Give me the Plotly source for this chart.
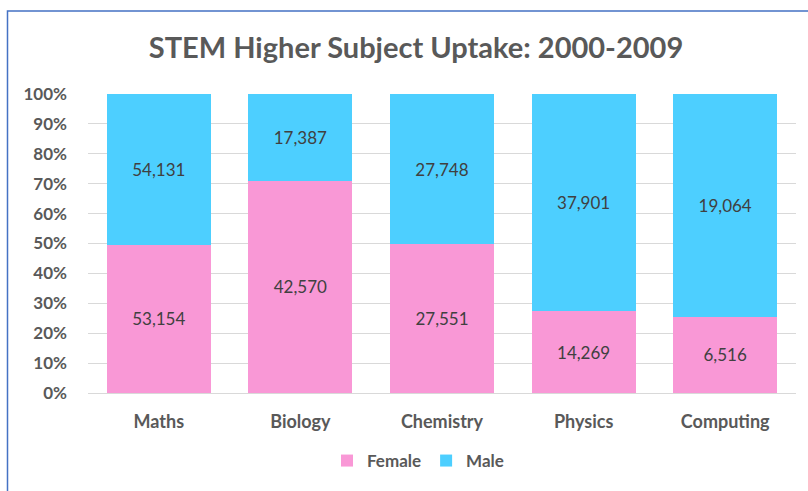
import plotly.graph_objects as go

categories = ["Maths", "Biology", "Chemistry", "Physics", "Computing"]
female = [53154, 42570, 27551, 14269, 6516]
male = [54131, 17387, 27748, 37901, 19064]
y_ticks = [0, 10, 20, 30, 40, 50, 60, 70, 80, 90, 100]
y_tick_labels = [f"{v}%" for v in y_ticks]

PINK = "#F998D6"
CYAN = "#4DCFFF"
GRAY = "#595959"
FONT = "Lato"

fig = go.Figure()
fig.add_trace(go.Bar(
    x=categories, y=female, name="<b>Female</b>", marker=dict(color=PINK, line=dict(width=0)),
    text=[f"{v:,}" for v in female], textposition="inside", insidetextanchor="middle",
    textfont=dict(family=FONT, size=17, color="#404040"),
))
fig.add_trace(go.Bar(
    x=categories, y=male, name="<b>Male</b>", marker=dict(color=CYAN, line=dict(width=0)),
    text=[f"{v:,}" for v in male], textposition="inside", insidetextanchor="middle",
    textfont=dict(family=FONT, size=17, color="#404040"),
))

L, R, T, B = 88, 12, 94, 98
W, H = 808, 491
pw, ph = W - L - R, H - T - B

def px_x(p):
    return (p - L) / pw

def px_y(p):
    return (H - B - p) / ph

fig.update_layout(
    width=W, height=H,
    margin=dict(l=L, r=R, t=T, b=B, autoexpand=False),
    barmode="stack", barnorm="percent", bargap=0.265,
    paper_bgcolor="white", plot_bgcolor="white",
    font=dict(family=FONT, color=GRAY),
    title=dict(text="<b>STEM Higher Subject Uptake: 2000-2009</b>", x=416 / W, xanchor="center",
               y=1 - 48 / H, yanchor="middle", font=dict(size=29, color=GRAY, family=FONT)),
    xaxis=dict(showgrid=False, showline=False, ticks="", tickfont=dict(size=18, color=GRAY, family=FONT),
               ticklabelstandoff=16, tickprefix="<b>", ticksuffix="</b>"),
    yaxis=dict(range=[0, 100], tickvals=y_ticks, ticktext=[f"<b>{t}</b>" for t in y_tick_labels],
               showgrid=True, gridcolor="#D9D9D9", gridwidth=1, zeroline=True, zerolinecolor="#D9D9D9",
               zerolinewidth=1, ticks="", tickfont=dict(size=17, color=GRAY, family=FONT),
               ticklabelstandoff=20),
    legend=dict(orientation="h", x=px_x(418), xanchor="center", y=px_y(461), yanchor="middle",
                font=dict(size=17, color=GRAY, family=FONT), traceorder="normal", itemwidth=30),
    shapes=[dict(type="rect", xref="paper", yref="paper",
                 x0=px_x(7.5), x1=px_x(1000), y0=px_y(11), y1=px_y(700),
                 line=dict(color="#4472C4", width=1.5), fillcolor="rgba(0,0,0,0)", layer="above")],
)

fig.write_html("out.html", config={"displayModeBar": False},
               post_script="document.body.style.margin='0';document.body.style.padding='0';")
